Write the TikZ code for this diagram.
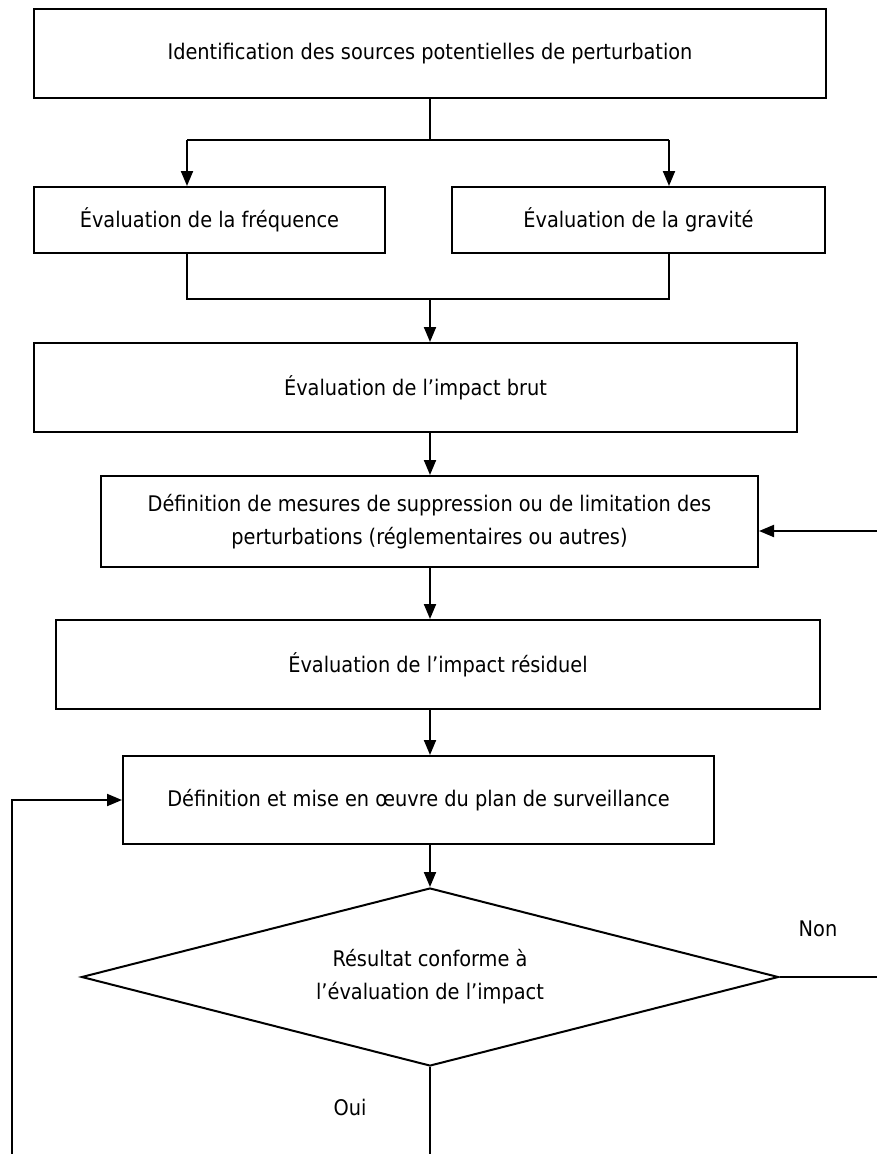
\documentclass[tikz,border=0pt]{standalone}
\usepackage{fontspec}
\setmainfont{DejaVu Sans Condensed}
\usetikzlibrary{arrows.meta,positioning,shapes.geometric}

\begin{document}
\begin{tikzpicture}[x=1pt,y=-1pt,
  box/.style={draw,line width=2pt,minimum height=89pt,inner sep=0pt,
              align=center,font=\fontsize{21.5}{33}\selectfont},
  flow/.style={line width=2pt},
  arr/.style={flow,-{Triangle[length=15pt,width=12pt]}},
  lbl/.style={font=\fontsize{21.5}{33}\selectfont}]
  \useasboundingbox (0,0) rectangle (877,1154);
  % boxes
  \node[box,minimum width=792pt] (src) at (430,53.5)
        {Identification des sources potentielles de perturbation};
  \node[box,minimum width=351pt,minimum height=66pt] (freq) at (209.5,220)
        {Évaluation de la fréquence};
  \node[box,minimum width=373pt,minimum height=66pt] (grav) at (638.5,220)
        {Évaluation de la gravité};
  \node[box,minimum width=763pt] (brut) at (415.5,387.5)
        {Évaluation de l'impact brut};
  \node[box,minimum width=657pt,minimum height=91pt] (mesure) at (429.5,521.5)
        {Définition de mesures de suppression ou de limitation des\\perturbations (réglementaires ou autres)};
  \node[box,minimum width=764pt] (resid) at (438,664.5)
        {Évaluation de l'impact résiduel};
  \node[box,minimum width=591pt,minimum height=88pt] (surv) at (418.5,800)
        {Définition et mise en œuvre du plan de surveillance};
  \node[box,diamond,shape aspect=3.9,minimum width=697pt,minimum height=178pt] (conf) at (430,977)
        {Résultat conforme à\\l'évaluation de l'impact};
  \node[lbl] (non) at (818,929) {Non};
  \node[lbl] (oui) at (350,1107) {Oui};
  % split and join
  \coordinate (split) at (430,140);
  \coordinate (sl) at (187,140);
  \coordinate (sr) at (669,140);
  \coordinate (join) at (430,299);
  \coordinate (jl) at (187,299);
  \coordinate (jr) at (669,299);
  \draw[flow] (src.south) -- (split);
  \draw[flow] (sl) -- (sr);
  \draw[arr] (sl) -- (sl |- freq.north);
  \draw[arr] (sr) -- (sr |- grav.north);
  \draw[flow] (jl |- freq.south) -- (jl) -- (jr) -- (jr |- grav.south);
  \draw[arr] (join) -- (join |- brut.north);
  % main chain
  \draw[arr] (join |- brut.south) -- (join |- mesure.north);
  \draw[arr] (join |- mesure.south) -- (join |- resid.north);
  \draw[arr] (join |- resid.south) -- (join |- surv.north);
  \draw[arr] (join |- surv.south) -- (conf.north);
  % loops
  \coordinate (back) at (877,531);
  \coordinate (nonend) at (877,977);
  \coordinate (ouiend) at (430,1154);
  \coordinate (loop) at (12,1154);
  \draw[arr] (back) -- (back -| mesure.east);
  \draw[flow] (conf.east) -- (nonend);
  \draw[flow] (conf.south) -- (ouiend);
  \draw[arr] (loop) |- (surv.west);
\end{tikzpicture}
\end{document}
